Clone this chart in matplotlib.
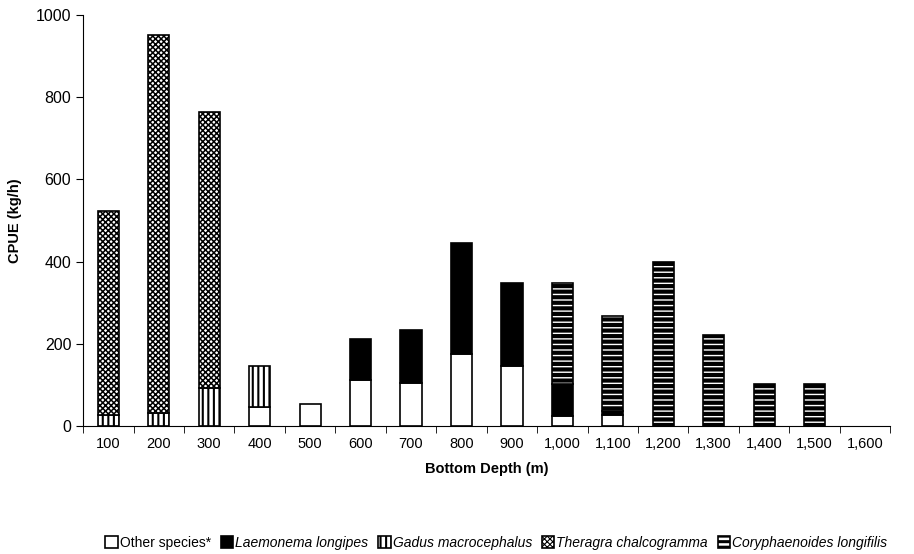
import numpy as np
import matplotlib
matplotlib.use("Agg")
from matplotlib import pyplot as plt

plt.rcParams['font.family'] = ['Liberation Sans', 'DejaVu Sans']

depths = ['100', '200', '300', '400', '500', '600', '700', '800',
          '900', '1,000', '1,100', '1,200', '1,300', '1,400', '1,500', '1,600']

other     = [0, 0, 0, 46, 54, 112, 105, 175, 146, 24, 27, 0, 0, 0, 0, 0]
laemonema = [0, 0, 0, 0, 0, 100, 129, 270, 202, 78, 10, 0, 0, 0, 0, 0]
gadus     = [27, 32, 92, 100, 0, 0, 0, 0, 0, 0, 0, 0, 0, 0, 0, 0]
theragra  = [496, 919, 672, 0, 0, 0, 0, 0, 0, 0, 0, 0, 0, 0, 0, 0]
coryph    = [0, 0, 0, 0, 0, 0, 0, 0, 0, 246, 231, 399, 221, 102, 102, 0]

# name, values, face colour, hatch, hatch line width, legend hatch line width
series = [
    ('Other species*', other, 'white', '', 1.0, 1.0),
    ('Laemonema longipes', laemonema, 'black', '', 1.0, 1.0),
    ('Gadus macrocephalus', gadus, 'white', '|||', 1.5, 1.5),
    ('Theragra chalcogramma', theragra, 'white', 'xxxxxx', 1.1, 0.8),
    ('Coryphaenoides longifilis', coryph, 'white', '---', 3.0, 2.2),
]

fig = plt.figure(figsize=(9.14, 5.54), dpi=100)
ax = fig.add_axes([0.091, 0.231, 0.883, 0.742])

x = np.arange(len(depths))
bottom = np.zeros(len(depths))
handles = []
for name, vals, fc, hatch, hlw, llw in series:
    vals = np.array(vals, dtype=float)
    m = vals > 0
    b = ax.bar(x[m], vals[m], 0.42, bottom=bottom[m], color=fc,
               edgecolor='black', hatch=hatch, linewidth=1.2)
    for p in b.patches:
        p.set_hatch_linewidth(hlw)
    h = plt.Rectangle((0, 0), 1, 1, facecolor=fc, edgecolor='black',
                      hatch=hatch, linewidth=1.2)
    handles.append(h)
    bottom += vals

ax.set_xlim(-0.5, len(depths) - 0.5)
ax.set_ylim(0, 1000)
ax.set_yticks(range(0, 1001, 200))
ax.set_xticks(x)
ax.set_xticklabels(depths, fontsize=10.5)
ax.set_xticks(np.arange(-0.5, len(depths)), minor=True)
ax.tick_params(axis='x', which='major', length=0, pad=8)
ax.tick_params(axis='x', which='minor', length=5, direction='out')
ax.tick_params(axis='y', labelsize=11.5, length=5)
for s in ['top', 'right']:
    ax.spines[s].set_visible(False)

ax.set_ylabel('CPUE (kg/h)', fontweight='bold', fontsize=10.5, labelpad=10)
ax.set_xlabel('Bottom Depth (m)', fontweight='bold', fontsize=10.5, labelpad=8)

leg = fig.legend(handles, [s[0] for s in series], loc='center',
                 bbox_to_anchor=(0.543, 0.02), ncol=5, frameon=False,
                 fontsize=10, handlelength=0.9, handleheight=0.9,
                 handletextpad=0.15, columnspacing=0.7)
for t in leg.get_texts()[1:]:
    t.set_style('italic')
for p, s in zip(leg.get_patches(), series):
    p.set_hatch_linewidth(s[5])

fig.savefig('out.png', dpi=100)
